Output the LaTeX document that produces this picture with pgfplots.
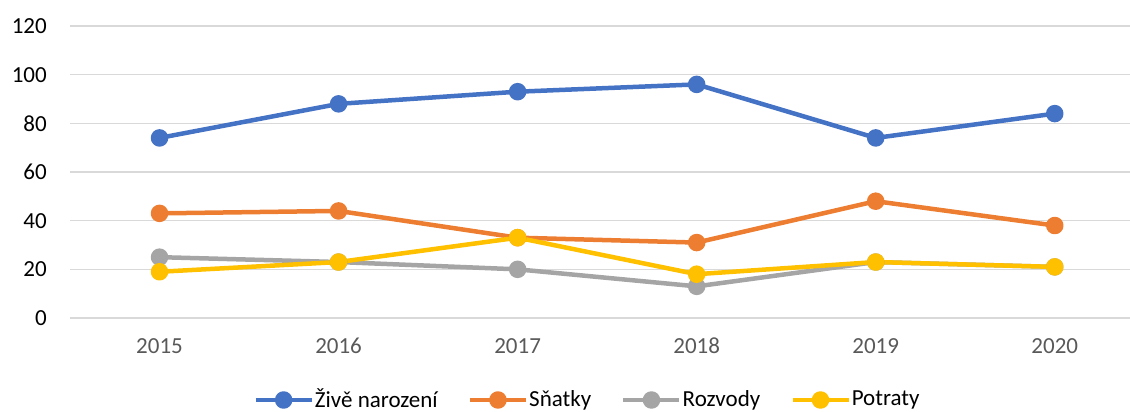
\documentclass[border=0pt]{standalone}
\usepackage{pgfplots}
\pgfplotsset{compat=1.18}
\usepackage{fontspec}
\setmainfont{Carlito}
\definecolor{cblue}{HTML}{4472C4}
\definecolor{corange}{HTML}{ED7D31}
\definecolor{cgray}{HTML}{A5A5A5}
\definecolor{cyellow}{HTML}{FFC000}
\definecolor{gridc}{HTML}{D9D9D9}
\definecolor{tgray}{HTML}{595959}
\begin{document}
\fontsize{23pt}{27pt}\selectfont
\begin{tikzpicture}[x=1pt,y=1pt]
\path[use as bounding box] (-70,-94) rectangle (1060,318);
\begin{axis}[
  at={(0,0)}, anchor=south west,
  scale only axis, width=1060pt, height=292pt,
  xmin=-0.5, xmax=5.42, ymin=0, ymax=120,
  ytick={0,20,...,120},
  xtick={0,1,2,3,4,5},
  xticklabels={2015,2016,2017,2018,2019,2020},
  ymajorgrids,
  major grid style={color=gridc, line width=1.5pt},
  axis line style={draw=none},
  major tick length=0pt,
  tick label style={font=\fontsize{23pt}{27pt}\selectfont},
  /pgf/number format/assume math mode=true,
  yticklabel style={anchor=east, inner sep=0pt, xshift=-23pt, text=black},
  xticklabel style={anchor=north, inner sep=0pt, yshift=-20pt, text=tgray},
  clip=false,
  every axis plot/.append style={line width=4.5pt, line join=round, mark=*, mark size=6.5pt},
  legend columns=4,
  legend style={at={(0.4877,-0.2808)}, anchor=center, draw=none, fill=none,
    font=\fontsize{23pt}{27pt}\selectfont,
    nodes={inner sep=1pt},
    /tikz/every odd column/.append style={column sep=0pt},
    /tikz/every even column/.append style={column sep=29pt}},
  legend image code/.code={\draw[#1, line width=4.5pt] (0pt,0pt) -- (56pt,0pt); \fill[#1] (28pt,0pt) circle (6.5pt);},
]
\addplot[color=cblue, mark options={draw=none, fill=cblue}] coordinates {(0,74) (1,88) (2,93) (3,96) (4,74) (5,84)};
\addlegendentry{Živě narození}
\addplot[color=corange, mark options={draw=none, fill=corange}] coordinates {(0,43) (1,44) (2,33) (3,31) (4,48) (5,38)};
\addlegendentry{Sňatky}
\addplot[color=cgray, mark options={draw=none, fill=cgray}] coordinates {(0,25) (1,23) (2,20) (3,13) (4,23) (5,21)};
\addlegendentry{Rozvody}
\addplot[color=cyellow, mark options={draw=none, fill=cyellow}] coordinates {(0,19) (1,23) (2,33) (3,18) (4,23) (5,21)};
\addlegendentry{Potraty}
\end{axis}
\end{tikzpicture}
\end{document}
